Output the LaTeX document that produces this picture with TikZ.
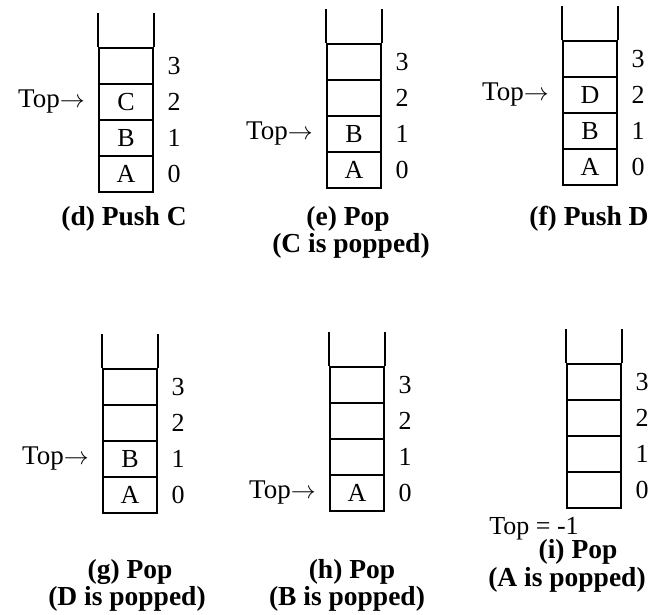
\documentclass[tikz,border=0pt]{standalone}
\usepackage{fontspec}
\setmainfont{Liberation Serif}
\tikzset{
  x={(1pt,0)}, y={(0,-1pt)},
  cell/.style={draw, line width=2.3pt, minimum width=54pt, minimum height=36pt,
    inner sep=0pt, font=\fontsize{26}{30}\selectfont},
  wall/.style={line width=2.3pt},
  idx/.style={inner sep=0pt, font=\fontsize{26}{30}\selectfont},
  toplbl/.style={inner sep=0pt, anchor=east, font=\fontsize{27}{31}\selectfont},
  caption/.style={inner sep=0pt, font=\bfseries\fontsize{27.5}{31}\selectfont}
}
% #1 name, #2 left edge, #3 bottom edge, #4 #5 #6 contents of slots 0, 1, 2
\newcommand{\drawstack}[6]{%
  \foreach \i/\c in {0/{#4},1/{#5},2/{#6},3/{}} {
    \node[cell] (#1-\i) at (#2+27, #3-18-36*\i) {\c};
    \node[idx] (#1-n\i) at (#2+75, #3-18-36*\i) {\i};
  }
  \draw[wall] (#1-3.north west) -- ++(0,-34);
  \draw[wall] (#1-3.north east) -- ++(0,-34);
}
\begin{document}
\begin{tikzpicture}
\useasboundingbox (0,0) rectangle (654,615);

% top row
\drawstack{d}{99}{192}{A}{B}{C}
\drawstack{e}{327}{188}{A}{B}{}
\drawstack{f}{563}{185}{A}{B}{D}

% bottom row
\drawstack{g}{103}{513}{A}{B}{}
\drawstack{h}{330}{511}{A}{}{}
\drawstack{i}{567}{508}{}{}{}

% top pointers
\node[toplbl] (td) at ([xshift=-13pt]d-2.west) {Top$\rightarrow$};
\node[toplbl] (te) at ([xshift=-13pt]e-1.west) {Top$\rightarrow$};
\node[toplbl] (tf) at ([xshift=-13pt]f-2.west) {Top$\rightarrow$};
\node[toplbl] (tg) at ([xshift=-13pt]g-1.west) {Top$\rightarrow$};
\node[toplbl] (th) at ([xshift=-13pt]h-0.west) {Top$\rightarrow$};
\node[idx] (ti) at (534,529) {Top = -1};

% captions
\node[caption] (cd) at (124,219) {(d) Push C};
\node[caption] (ce1) at (348,219) {(e) Pop};
\node[caption] (ce2) at (351,246) {(C is popped)};
\node[caption] (cf) at (589,219) {(f) Push D};
\node[caption] (cg1) at (130,572) {(g) Pop};
\node[caption] (cg2) at (127,599) {(D is popped)};
\node[caption] (ch1) at (352,572) {(h) Pop};
\node[caption] (ch2) at (347,599) {(B is popped)};
\node[caption] (ci1) at (578,552) {(i) Pop};
\node[caption] (ci2) at (567,580) {(A is popped)};
\end{tikzpicture}
\end{document}
